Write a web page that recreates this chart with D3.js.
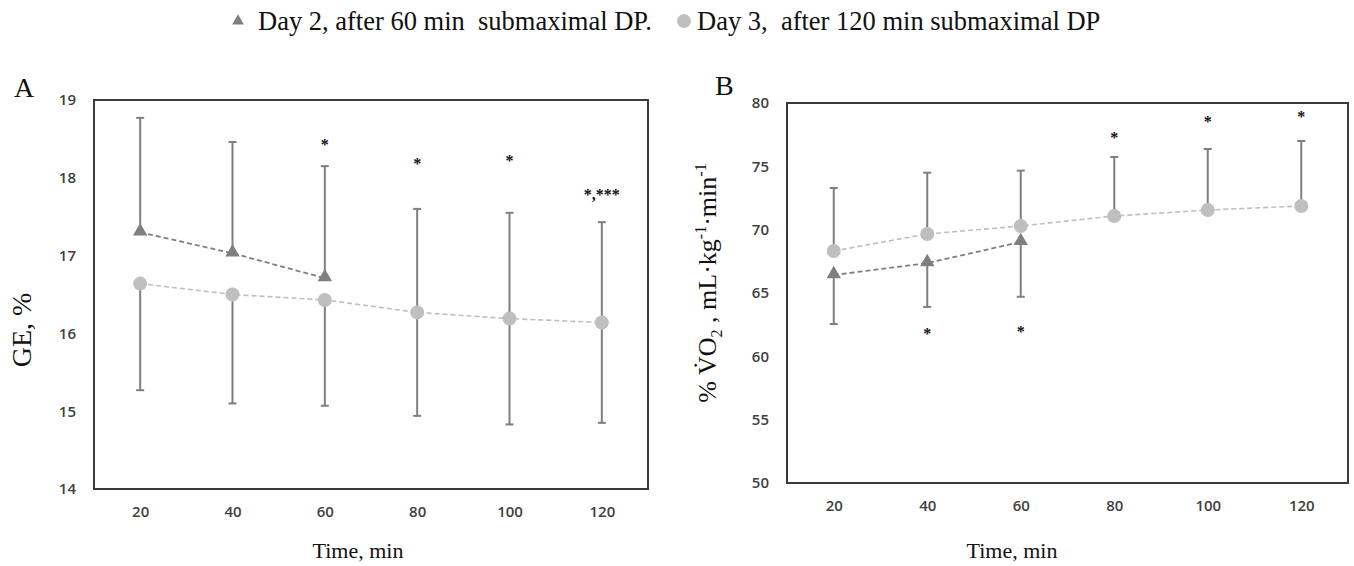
<!DOCTYPE html>
<html>
<head>
<meta charset="utf-8">
<script src="https://cdn.jsdelivr.net/npm/d3@7"></script>
<style>
  body { margin: 0; background: #fff; }
  svg text { font-family: "Liberation Serif", "Times New Roman", serif; }
  .tick text { font-family: "Open Sans", sans-serif; font-size: 15px; font-weight: 600; fill: #404040; }
</style>
</head>
<body>
<div id="chart"></div>
<script>
// time points (min)
var times = [20, 40, 60, 80, 100, 120];

// panel A: gross efficiency, %
var geTicks = [14, 15, 16, 17, 18, 19];
var geDay2 = [17.30, 17.03, 16.71];
var geDay2Sd = [1.47, 1.43, 1.44];
var geDay3 = [16.64, 16.50, 16.43, 16.27, 16.19, 16.14];
var geDay3Sd = [1.37, 1.40, 1.36, 1.33, 1.36, 1.29];
var geStarTimes = [60, 80, 100, 120];
var geStarValues = [18.45, 18.20, 18.24, 17.80];
var geStarText = ["*", "*", "*", "*,***"];

// panel B: %VO2
var vo2Ticks = [50, 55, 60, 65, 70, 75, 80];
var vo2Day2 = [66.42, 67.36, 69.03];
var vo2Day2Sd = [3.87, 3.46, 4.33];
var vo2Day3 = [68.32, 69.66, 70.29, 71.08, 71.55, 71.87];
var vo2Day3Sd = [4.97, 4.84, 4.37, 4.66, 4.82, 5.13];
var vo2StarTimes = [40, 60, 80, 100, 120];
var vo2StarValues = [61.93, 62.10, 77.40, 78.66, 79.05];
var vo2StarText = ["*", "*", "*", "*", "*"];

var legendLabels = ["Day 2, after 60 min  submaximal DP.", "Day 3,  after 120 min submaximal DP"];

var dark = "#7f7f7f", light = "#bfbfbf";

var svg = d3.select("#chart").append("svg")
    .attr("width", 1354)
    .attr("height", 566);

// legend
var legend = svg.append("g");
legend.append("path")
    .attr("d", d3.symbol().type(d3.symbolTriangle).size(60)())
    .attr("transform", "translate(238,21)")
    .attr("fill", dark);
legend.append("text").attr("x", 258).attr("y", 30)
    .attr("font-size", "26.5px").attr("fill", "#111")
    .style("white-space", "pre").text(legendLabels[0]);
legend.append("circle").attr("cx", 684).attr("cy", 21).attr("r", 7).attr("fill", light);
legend.append("text").attr("x", 697).attr("y", 30)
    .attr("font-size", "26.5px").attr("fill", "#111")
    .style("white-space", "pre").text(legendLabels[1]);

function panel(opt) {
    var x = d3.scalePoint()
        .domain(times)
        .range([opt.left, opt.right])
        .padding(0.5);
    var y = d3.scaleLinear()
        .domain(opt.domain)
        .range([opt.bottom, opt.top]);

    var g = svg.append("g");

    // y axis labels
    g.append("g")
        .attr("transform", "translate(" + opt.left + ",0)")
        .call(d3.axisLeft(y).tickValues(opt.ticks).tickFormat(d3.format("d")).tickSize(0).tickPadding(18))
        .call(function(a) { a.select(".domain").remove(); });

    // x axis labels
    g.append("g")
        .attr("transform", "translate(0," + opt.bottom + ")")
        .call(d3.axisBottom(x).tickSize(0).tickPadding(17))
        .call(function(a) { a.select(".domain").remove(); });

    // frame
    g.append("rect")
        .attr("x", opt.left).attr("y", opt.top)
        .attr("width", opt.right - opt.left)
        .attr("height", opt.bottom - opt.top)
        .attr("fill", "none")
        .attr("stroke", "#3a3a3a")
        .attr("stroke-width", 2);

    var d2 = opt.day2.map(function(v, i) { return { t: times[i], v: v, sd: opt.day2Sd[i] }; });
    var d3s = opt.day3.map(function(v, i) { return { t: times[i], v: v, sd: opt.day3Sd[i] }; });

    // error bars; up/down decide which halves are shown
    function errorBars(data, up, down) {
        var eb = g.append("g").attr("stroke", dark).attr("stroke-width", 2);
        data.forEach(function(d, i) {
            var u = up(d, i), dn = down(d, i);
            var hi = u ? d.v + d.sd : d.v;
            var lo = dn ? d.v - d.sd : d.v;
            eb.append("line")
                .attr("x1", x(d.t)).attr("x2", x(d.t))
                .attr("y1", y(hi)).attr("y2", y(lo));
            if (u) eb.append("line")
                .attr("x1", x(d.t) - 4).attr("x2", x(d.t) + 4)
                .attr("y1", y(hi)).attr("y2", y(hi));
            if (dn) eb.append("line")
                .attr("x1", x(d.t) - 4).attr("x2", x(d.t) + 4)
                .attr("y1", y(lo)).attr("y2", y(lo));
        });
    }
    errorBars(d3s, opt.day3Up, opt.day3Down);
    errorBars(d2, opt.day2Up, opt.day2Down);

    var line = d3.line()
        .x(function(d) { return x(d.t); })
        .y(function(d) { return y(d.v); });

    g.append("path").datum(d3s)
        .attr("d", line)
        .attr("fill", "none")
        .attr("stroke", light)
        .attr("stroke-width", 1.6)
        .attr("stroke-dasharray", "5,3");
    g.append("path").datum(d2)
        .attr("d", line)
        .attr("fill", "none")
        .attr("stroke", dark)
        .attr("stroke-width", 1.8)
        .attr("stroke-dasharray", "5,3");

    g.selectAll(".dot").data(d3s).enter().append("circle")
        .attr("cx", function(d) { return x(d.t); })
        .attr("cy", function(d) { return y(d.v); })
        .attr("r", 7)
        .attr("fill", light);

    g.selectAll(".tri").data(d2).enter().append("path")
        .attr("d", d3.symbol().type(d3.symbolTriangle).size(90)())
        .attr("transform", function(d) { return "translate(" + x(d.t) + "," + (y(d.v) - 1) + ")"; })
        .attr("fill", dark);

    // significance marks
    g.selectAll(".star").data(opt.starTimes).enter().append("text")
        .attr("x", function(t) { return x(t); })
        .attr("y", function(t, i) { return y(opt.starValues[i]) + 7; })
        .attr("text-anchor", "middle")
        .attr("font-size", "16px")
        .attr("font-weight", "bold")
        .attr("fill", "#111")
        .text(function(t, i) { return opt.starText[i]; });

    // panel letter
    g.append("text")
        .attr("x", opt.letterX).attr("y", opt.letterY)
        .attr("font-size", "28px").attr("fill", "#111")
        .text(opt.letter);

    // x title
    g.append("text")
        .attr("x", opt.xTitleX).attr("y", 558)
        .attr("text-anchor", "middle")
        .attr("font-size", "22px").attr("fill", "#111")
        .text("Time, min");

    return g;
}

function always() { return true; }
function never() { return false; }

var gA = panel({
    left: 94, right: 648, top: 100, bottom: 489,
    domain: [14, 19], ticks: geTicks,
    day2: geDay2, day2Sd: geDay2Sd, day2Up: always, day2Down: never,
    day3: geDay3, day3Sd: geDay3Sd,
    day3Up: function(d, i) { return i >= geDay2.length; }, day3Down: always,
    starTimes: geStarTimes, starValues: geStarValues, starText: geStarText,
    letter: "A", letterX: 14, letterY: 97, xTitleX: 358
});

var gB = panel({
    left: 787, right: 1348, top: 103, bottom: 483,
    domain: [50, 80], ticks: vo2Ticks,
    day2: vo2Day2, day2Sd: vo2Day2Sd, day2Up: never, day2Down: always,
    day3: vo2Day3, day3Sd: vo2Day3Sd, day3Up: always, day3Down: never,
    starTimes: vo2StarTimes, starValues: vo2StarValues, starText: vo2StarText,
    letter: "B", letterX: 715, letterY: 95, xTitleX: 1012
});

// y titles
gA.append("text")
    .attr("transform", "translate(31,330) rotate(-90)")
    .attr("text-anchor", "middle")
    .attr("font-size", "28px").attr("fill", "#111")
    .text("GE, %");

var yb = gB.append("text")
    .attr("transform", "translate(716,283) rotate(-90)")
    .attr("text-anchor", "middle")
    .attr("font-size", "26px").attr("fill", "#111");
yb.append("tspan").text("% V\u0307O");
yb.append("tspan").attr("font-size", "16px").attr("dy", 6).text("2");
yb.append("tspan").attr("dy", -6).text(" , mL\u00b7kg");
yb.append("tspan").attr("font-size", "16px").attr("dy", -10).text("-1");
yb.append("tspan").attr("dy", 10).text("\u00b7min");
yb.append("tspan").attr("font-size", "16px").attr("dy", -10).text("-1");
</script>
</body>
</html>
